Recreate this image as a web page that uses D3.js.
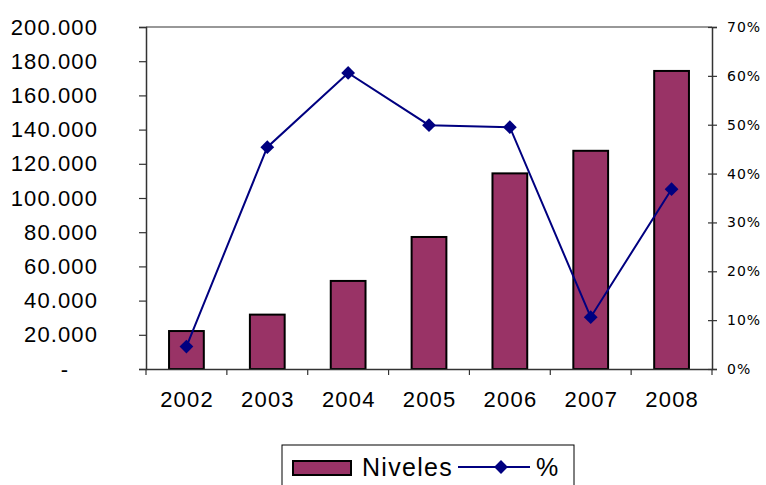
<!DOCTYPE html>
<html>
<head>
<meta charset="utf-8">
<script src="https://cdn.jsdelivr.net/npm/d3@7"></script>
<style>
  html, body { margin: 0; padding: 0; background: #fff; }
  svg { display: block; font-family: "Liberation Sans", Arial, sans-serif; }
</style>
</head>
<body>
<svg id="chart" width="766" height="485"></svg>
<script>
// Yearly levels (bars, left axis) and growth rate (line, right axis)
const years = ["2002", "2003", "2004", "2005", "2006", "2007", "2008"];
const niveles = [22200, 31800, 51500, 77200, 114400, 127600, 174300];
const pct = [0.046, 0.454, 0.606, 0.499, 0.495, 0.106, 0.368];
const leftTicks = [0, 20000, 40000, 60000, 80000, 100000, 120000, 140000, 160000, 180000, 200000];
const rightTicks = [0, 0.1, 0.2, 0.3, 0.4, 0.5, 0.6, 0.7];
const legendLabels = ["Niveles", "%"];

const svg = d3.select("#chart");
const m = { left: 146, right: 712, top: 27, bottom: 369 };

const x = d3.scaleBand().domain(years).range([m.left, m.right]).paddingInner(0).paddingOuter(0);
const yL = d3.scaleLinear().domain([0, 200000]).range([m.bottom, m.top]);
const yR = d3.scaleLinear().domain([0, 0.7]).range([m.bottom, m.top]);

const axisColor = "#333";
const barColor = "#993366";
const lineColor = "#000080";
const font = "Liberation Sans, Arial, sans-serif";

// thousands with a dot separator, zero shown as a dash
const fmtL = v => v === 0 ? "-" : d3.format(",")(v).replace(/,/g, ".");

// bars
const barW = x.bandwidth() * 0.43;
svg.append("g").selectAll("rect").data(years).join("rect")
  .attr("x", (d) => x(d) + x.bandwidth() / 2 - barW / 2)
  .attr("y", (d, i) => yL(niveles[i]))
  .attr("width", barW)
  .attr("height", (d, i) => yL(0) - yL(niveles[i]))
  .attr("fill", barColor)
  .attr("stroke", "#000")
  .attr("stroke-width", 2);

// frame top line
svg.append("line")
  .attr("x1", m.left).attr("x2", m.right).attr("y1", m.top).attr("y2", m.top)
  .attr("stroke", axisColor).attr("stroke-width", 1.2);

// left axis
const gL = svg.append("g").attr("transform", `translate(${m.left},0)`)
  .call(d3.axisLeft(yL).tickValues(leftTicks).tickSize(7).tickPadding(41).tickFormat(fmtL));
gL.select(".domain").attr("stroke", axisColor).attr("stroke-width", 1.5);
gL.selectAll(".tick line").attr("stroke", axisColor).attr("stroke-width", 1.2);
gL.selectAll(".tick text").attr("font-size", 22).attr("fill", "#000")
  .attr("letter-spacing", 1.1).attr("font-family", font);
gL.selectAll(".tick text").filter(d => d === 0)
  .attr("text-anchor", "middle").attr("x", -81);

// right axis
const gR = svg.append("g").attr("transform", `translate(${m.right},0)`)
  .call(d3.axisRight(yR).tickValues(rightTicks).tickSize(5).tickPadding(10).tickFormat(d3.format(".0%")));
gR.select(".domain").attr("stroke", axisColor).attr("stroke-width", 1.5);
gR.selectAll(".tick line").attr("x1", -4).attr("stroke", axisColor).attr("stroke-width", 1.2);
gR.selectAll(".tick text").attr("font-size", 14).attr("fill", "#000")
  .attr("letter-spacing", 1).attr("font-family", "DejaVu Sans, Verdana, sans-serif");

// bottom axis: ticks at category boundaries
const gB = svg.append("g").attr("transform", `translate(0,${m.bottom})`)
  .call(d3.axisBottom(x).tickSize(0).tickPadding(22));
gB.select(".domain").attr("stroke", axisColor).attr("stroke-width", 1.5);
gB.selectAll(".tick text").attr("font-size", 22).attr("fill", "#000")
  .attr("letter-spacing", 1.2).attr("dx", 0.6).attr("font-family", font);
gB.selectAll(".boundary").data(years.concat(["end"])).join("line")
  .attr("class", "boundary")
  .attr("x1", (d, i) => m.left + i * x.step())
  .attr("x2", (d, i) => m.left + i * x.step())
  .attr("y1", 0).attr("y2", 6)
  .attr("stroke", axisColor).attr("stroke-width", 1.2);

// percentage line
const cx = (d, i) => x(years[i]) + x.bandwidth() / 2;
const line = d3.line().x((d, i) => cx(d, i)).y(d => yR(d));
svg.append("path").datum(pct)
  .attr("d", line).attr("fill", "none")
  .attr("stroke", lineColor).attr("stroke-width", 2);

const diamond = d3.symbol().type(d3.symbolSquare).size(95);
svg.append("g").selectAll("path").data(pct).join("path")
  .attr("d", diamond)
  .attr("transform", (d, i) => `translate(${cx(d, i)},${yR(d)}) rotate(45)`)
  .attr("fill", lineColor);

// legend
const lg = svg.append("g");
lg.append("rect").attr("x", 282).attr("y", 445).attr("width", 292).attr("height", 45)
  .attr("fill", "#fff").attr("stroke", "#000").attr("stroke-width", 1);
lg.append("rect").attr("x", 293).attr("y", 461).attr("width", 58).attr("height", 14)
  .attr("fill", barColor).attr("stroke", "#000").attr("stroke-width", 2);
lg.append("text").attr("x", 362).attr("y", 476).attr("font-size", 25)
  .attr("letter-spacing", 1.3).attr("fill", "#000").text(legendLabels[0]);
lg.append("line").attr("x1", 458).attr("x2", 530).attr("y1", 467).attr("y2", 467)
  .attr("stroke", lineColor).attr("stroke-width", 2);
lg.append("path").attr("d", diamond)
  .attr("transform", "translate(501,467) rotate(45)").attr("fill", lineColor);
lg.append("text").attr("x", 536).attr("y", 476).attr("font-size", 25)
  .attr("fill", "#000").text(legendLabels[1]);
</script>
</body>
</html>
